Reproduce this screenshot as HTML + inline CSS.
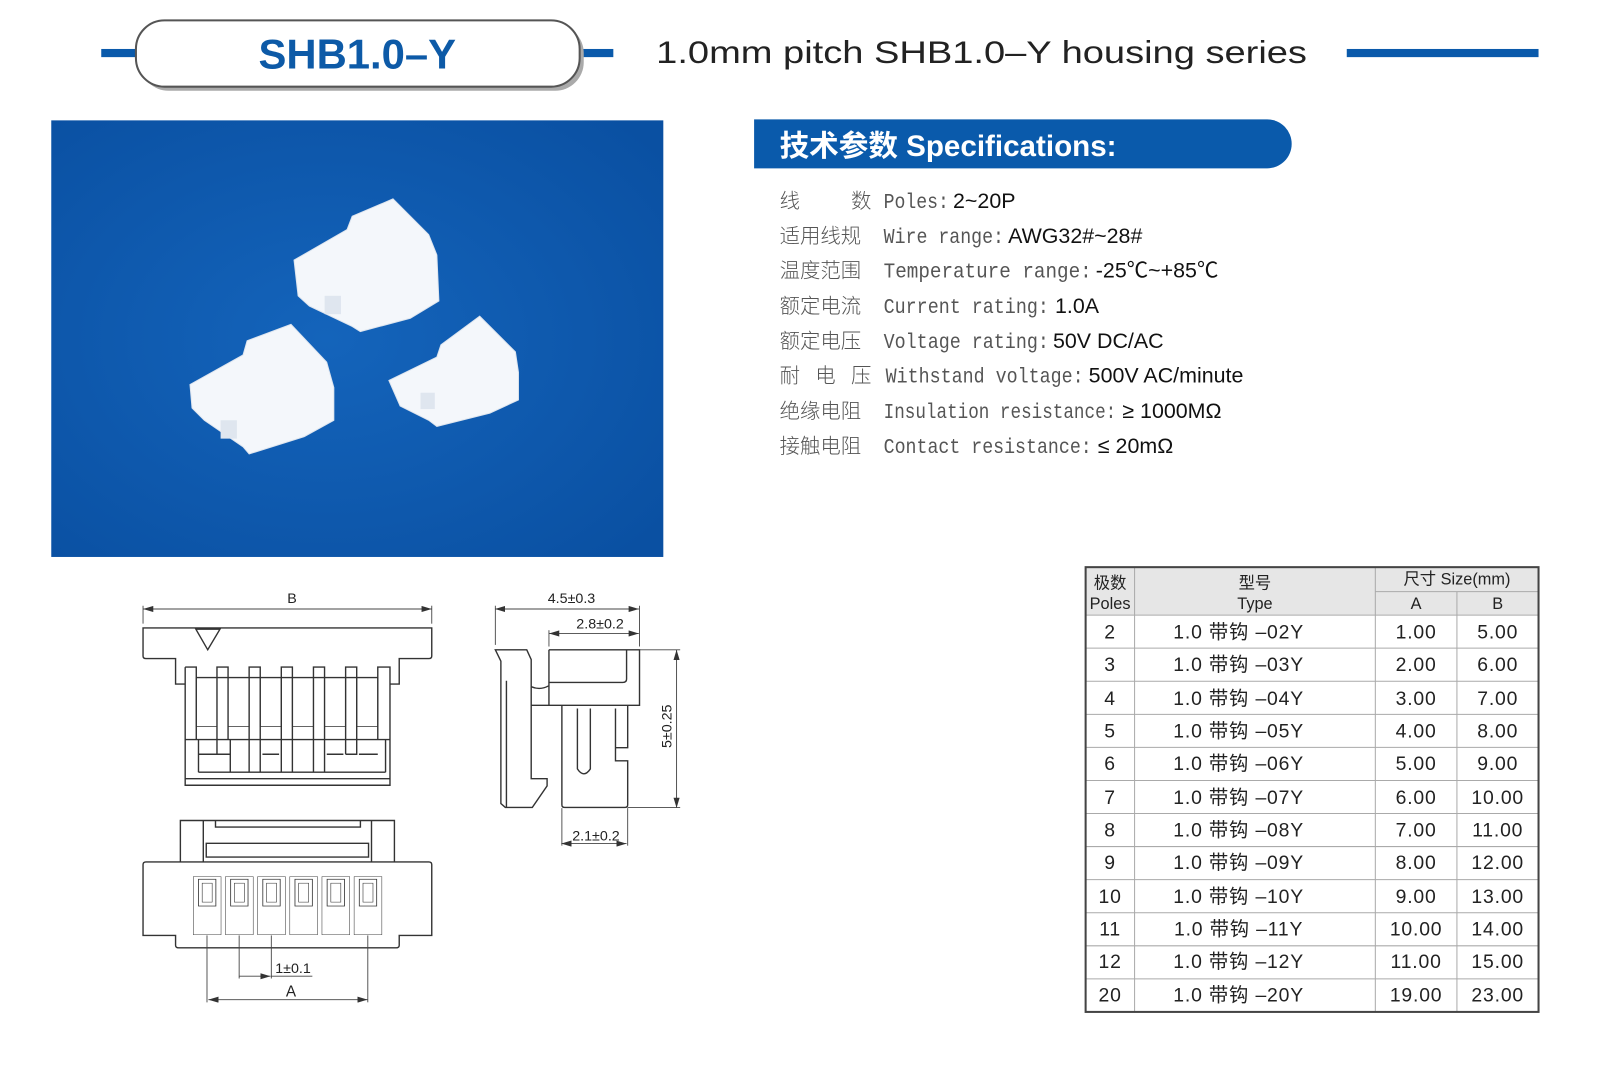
<!DOCTYPE html>
<html><head><meta charset="utf-8"><style>
html,body{margin:0;padding:0;background:#fff;}
svg{display:block;}
text{font-family:"Liberation Sans","Noto Sans CJK SC",sans-serif;}
.m{font-family:"Liberation Mono","DejaVu Sans Mono",monospace;fill:#555;font-size:21px;}
.c{font-family:"Noto Sans CJK SC",sans-serif;fill:#555;font-size:20px;font-weight:300;}
.v{fill:#111;font-size:21px;}
.t{font-size:19px;fill:#222;letter-spacing:0.8px;}
.d{fill:none;stroke:#333;stroke-width:1.4;vector-effect:non-scaling-stroke;}
.dl{fill:none;stroke:#444;stroke-width:0.9;vector-effect:non-scaling-stroke;}
.dim{font-size:14px;fill:#222;}
</style></head><body>
<svg width="1600" height="1067" viewBox="0 0 1568 1046" xmlns="http://www.w3.org/2000/svg">
<defs>
<radialGradient id="bg" cx="0.45" cy="0.5" r="0.7"><stop offset="0" stop-color="#1464bb"/><stop offset="1" stop-color="#0a50a2"/></radialGradient>
<marker id="ar" viewBox="0 0 10 6" refX="10" refY="3" markerWidth="10" markerHeight="6" markerUnits="userSpaceOnUse" orient="auto-start-reverse"><path d="M0,0 L10,3 L0,6 Z" fill="#333"/></marker>
</defs>

<!-- Header -->
<rect x="99" y="48" width="36" height="8" fill="#0a5aab"/>
<rect x="566" y="48" width="35" height="8" fill="#0a5aab"/>
<rect x="1320" y="48" width="188" height="8" fill="#0a5aab"/>
<rect x="137" y="24" width="435" height="65" rx="28" fill="#aaa"/>
<rect x="133" y="20" width="435" height="65" rx="28" fill="#fff" stroke="#555" stroke-width="2"/>
<text x="350" y="67" text-anchor="middle" font-size="41" font-weight="bold" fill="#0d5aa7">SHB1.0–Y</text>
<text x="643" y="62" font-size="31" fill="#222" textLength="638" lengthAdjust="spacingAndGlyphs">1.0mm pitch SHB1.0–Y housing series</text>

<!-- Photo -->
<rect x="50" y="118" width="600" height="428" fill="url(#bg)"/>
<g fill="#f4f7fb" stroke="#dfe6ef" stroke-width="1">
 <polygon points="288,255 340,225 345,212 385,195 420,230 428,250 430,295 402,312 353,325 345,320 303,300 292,290"/>
 <polygon points="186,377 238,348 242,334 285,318 320,355 327,380 327,412 298,428 244,445 238,438 200,412 188,400"/>
 <polygon points="381,373 428,350 432,338 470,310 505,345 508,365 508,392 480,405 428,418 420,412 392,398"/>
</g>
<g fill="#dfe6ef">
 <rect x="318" y="290" width="16" height="18"/><rect x="216" y="412" width="16" height="18"/><rect x="412" y="385" width="14" height="16"/>
</g>

<!-- Spec banner -->
<path d="M739,117 H1242 A24,24 0 0 1 1242,165 H739 Z" fill="#0a5aab"/>
<text x="764" y="153" font-size="29" font-weight="bold" fill="#fff">技术参数 Specifications:</text>

<!-- Spec lines -->
<g>
 <text class="c" x="764" y="204">线</text><text class="c" x="834" y="204">数</text>
 <text class="m" x="866" y="204" textLength="64" lengthAdjust="spacingAndGlyphs">Poles:</text><text class="v" x="934" y="204">2~20P</text>
 <text class="c" x="764" y="238">适用线规</text>
 <text class="m" x="866" y="238" textLength="118" lengthAdjust="spacingAndGlyphs">Wire range:</text><text class="v" x="988" y="238">AWG32#~28#</text>
 <text class="c" x="764" y="272">温度范围</text>
 <text class="m" x="866" y="272" textLength="204" lengthAdjust="spacingAndGlyphs">Temperature range:</text><text class="v" x="1074" y="272">-25℃~+85℃</text>
 <text class="c" x="764" y="307">额定电流</text>
 <text class="m" x="866" y="307" textLength="162" lengthAdjust="spacingAndGlyphs">Current rating:</text><text class="v" x="1034" y="307">1.0A</text>
 <text class="c" x="764" y="341">额定电压</text>
 <text class="m" x="866" y="341" textLength="162" lengthAdjust="spacingAndGlyphs">Voltage rating:</text><text class="v" x="1032" y="341">50V DC/AC</text>
 <text class="c" x="764" y="375">耐</text><text class="c" x="799" y="375">电</text><text class="c" x="834" y="375">压</text>
 <text class="m" x="868" y="375" textLength="194" lengthAdjust="spacingAndGlyphs">Withstand voltage:</text><text class="v" x="1067" y="375">500V AC/minute</text>
 <text class="c" x="764" y="410">绝缘电阻</text>
 <text class="m" x="866" y="410" textLength="228" lengthAdjust="spacingAndGlyphs">Insulation resistance:</text><text class="v" x="1100" y="410">≥ 1000MΩ</text>
 <text class="c" x="764" y="444">接触电阻</text>
 <text class="m" x="866" y="444" textLength="204" lengthAdjust="spacingAndGlyphs">Contact resistance:</text><text class="v" x="1076" y="444">≤ 20mΩ</text>
</g>

<!-- Table -->
<rect x="1064" y="556" width="444" height="47" fill="#e6e6e6"/>
<g stroke="#aaa" stroke-width="1">
 <line x1="1348" y1="580" x2="1508" y2="580"/>
 <line x1="1064" y1="603" x2="1508" y2="603"/>
 <line x1="1064" y1="635.4" x2="1508" y2="635.4"/><line x1="1064" y1="667.8" x2="1508" y2="667.8"/>
 <line x1="1064" y1="700.3" x2="1508" y2="700.3"/><line x1="1064" y1="732.7" x2="1508" y2="732.7"/>
 <line x1="1064" y1="765.1" x2="1508" y2="765.1"/><line x1="1064" y1="797.5" x2="1508" y2="797.5"/>
 <line x1="1064" y1="829.9" x2="1508" y2="829.9"/><line x1="1064" y1="862.3" x2="1508" y2="862.3"/>
 <line x1="1064" y1="894.8" x2="1508" y2="894.8"/><line x1="1064" y1="927.2" x2="1508" y2="927.2"/>
 <line x1="1064" y1="959.6" x2="1508" y2="959.6"/>
 <line x1="1112" y1="556" x2="1112" y2="992"/>
 <line x1="1348" y1="556" x2="1348" y2="992"/>
 <line x1="1428" y1="580" x2="1428" y2="992"/>
</g>
<rect x="1064" y="556" width="444" height="436" fill="none" stroke="#444" stroke-width="2"/>
<g font-size="16" fill="#222" text-anchor="middle">
 <text x="1088" y="577">极数</text><text x="1088" y="597">Poles</text>
 <text x="1230" y="577">型号</text><text x="1230" y="597">Type</text>
 <text x="1428" y="573">尺寸 Size(mm)</text>
 <text x="1388" y="597">A</text><text x="1468" y="597">B</text>
</g>
<g class="t" text-anchor="middle">
 <text x="1088" y="626">2</text><text x="1214" y="626">1.0 带钩 –02Y</text><text x="1388" y="626">1.00</text><text x="1468" y="626">5.00</text>
 <text x="1088" y="658">3</text><text x="1214" y="658">1.0 带钩 –03Y</text><text x="1388" y="658">2.00</text><text x="1468" y="658">6.00</text>
 <text x="1088" y="691">4</text><text x="1214" y="691">1.0 带钩 –04Y</text><text x="1388" y="691">3.00</text><text x="1468" y="691">7.00</text>
 <text x="1088" y="723">5</text><text x="1214" y="723">1.0 带钩 –05Y</text><text x="1388" y="723">4.00</text><text x="1468" y="723">8.00</text>
 <text x="1088" y="755">6</text><text x="1214" y="755">1.0 带钩 –06Y</text><text x="1388" y="755">5.00</text><text x="1468" y="755">9.00</text>
 <text x="1088" y="788">7</text><text x="1214" y="788">1.0 带钩 –07Y</text><text x="1388" y="788">6.00</text><text x="1468" y="788">10.00</text>
 <text x="1088" y="820">8</text><text x="1214" y="820">1.0 带钩 –08Y</text><text x="1388" y="820">7.00</text><text x="1468" y="820">11.00</text>
 <text x="1088" y="852">9</text><text x="1214" y="852">1.0 带钩 –09Y</text><text x="1388" y="852">8.00</text><text x="1468" y="852">12.00</text>
 <text x="1088" y="885">10</text><text x="1214" y="885">1.0 带钩 –10Y</text><text x="1388" y="885">9.00</text><text x="1468" y="885">13.00</text>
 <text x="1088" y="917">11</text><text x="1214" y="917">1.0 带钩 –11Y</text><text x="1388" y="917">10.00</text><text x="1468" y="917">14.00</text>
 <text x="1088" y="949">12</text><text x="1214" y="949">1.0 带钩 –12Y</text><text x="1388" y="949">11.00</text><text x="1468" y="949">15.00</text>
 <text x="1088" y="982">20</text><text x="1214" y="982">1.0 带钩 –20Y</text><text x="1388" y="982">19.00</text><text x="1468" y="982">23.00</text>
</g>

<!-- Drawings (zoom coords) -->
<g transform="translate(117.5,571.4) scale(0.3624,0.32)">
 <!-- front view -->
 <line class="dl" x1="62" y1="70" x2="62" y2="125"/><line class="dl" x1="843" y1="70" x2="843" y2="125"/>
 <path class="d" d="M176,310 H150 V232 H70 Q62,232 62,224 V138 H843 V224 Q843,232 835,232 H755 V310 H730"/>
 <path class="d" d="M205,142 L270,142 L237,205 Z"/>
 <path class="d" d="M176,258 H206 V480 M262,480 V258 H292 V480 M349,480 V258 H379 V480 M436,480 V258 H466 V480 M523,480 V258 H553 V480 M610,480 V258 H640 V480 M697,480 V258 H730 V620 H176 V258"/>
 <g class="d" style="stroke-width:2.4">
  <path d="M206,290 V440 H262 V290 M292,290 V440 H349 V290 M379,290 V440 H436 V290 M466,290 V440 H523 V290 M553,290 V440 H610 V290 M640,290 V440 H697 V290"/>
 </g>
 <path class="d" d="M206,290 H697 M176,480 H730 M176,600 H730 M212,580 H718 M212,480 V580 M349,480 V580 M379,480 V580 M523,480 V580 M553,480 V580 M718,480 V580 M298,480 V580 M262,480 V525 H298 M436,480 V580 M466,480 V580 M610,480 V525 M640,480 V525 H610 M212,525 H262 M646,525 H697 M385,525 H430 M559,525 H604"/>
 <!-- side view -->
 <line class="dl" x1="1015" y1="70" x2="1015" y2="190"/><line class="dl" x1="1405" y1="70" x2="1405" y2="195"/>
 <line class="dl" x1="1160" y1="145" x2="1160" y2="195"/>
 <path class="d" d="M1015,205 H1100 L1112,235 V600 L1155,600 V622 L1115,688 H1042 L1030,676 V240 Z M1045,300 V686"/>
 <path class="d" d="M1160,205 H1405 V375 H1112 M1160,205 V375 M1160,305 H1360 Q1370,305 1370,295 V205 M1112,318 Q1136,330 1160,315"/>
 <path class="d" d="M1195,375 V680 Q1195,688 1203,688 H1365 Q1373,688 1373,680 V545 H1340 V505 H1373 V375 M1340,385 V505 M1237,385 V570 Q1254,600 1272,570 V385"/>
 <line class="dl" x1="1405" y1="205" x2="1515" y2="205"/><line class="dl" x1="1373" y1="688" x2="1515" y2="688"/>
 <line class="dl" x1="1195" y1="690" x2="1195" y2="805"/><line class="dl" x1="1373" y1="690" x2="1373" y2="805"/>
 <!-- bottom view -->
 <path class="d" d="M163,855 V728 H742 V855 M225,728 V855 M680,728 V855 M258,728 V748 H650 V728 M233,798 H672 V840 H233 Z"/>
 <path class="d" d="M70,855 H835 Q843,855 843,863 V1080 H755 V1110 Q755,1118 747,1118 H158 Q150,1118 150,1110 V1080 H62 V863 Q62,855 70,855 Z"/>
 <g class="d">
  <rect x="198" y="900" width="75" height="178"/><rect x="285" y="900" width="75" height="178"/><rect x="372" y="900" width="75" height="178"/>
  <rect x="459" y="900" width="75" height="178"/><rect x="546" y="900" width="75" height="178"/><rect x="633" y="900" width="75" height="178"/>
 </g>
 <g class="d" style="stroke-width:2.2">
  <rect x="212" y="908" width="47" height="82"/><rect x="299" y="908" width="47" height="82"/><rect x="386" y="908" width="47" height="82"/>
  <rect x="473" y="908" width="47" height="82"/><rect x="560" y="908" width="47" height="82"/><rect x="647" y="908" width="47" height="82"/>
 </g>
 <g class="d" style="stroke-width:1.6">
  <rect x="222" y="920" width="27" height="58"/><rect x="309" y="920" width="27" height="58"/><rect x="396" y="920" width="27" height="58"/>
  <rect x="483" y="920" width="27" height="58"/><rect x="570" y="920" width="27" height="58"/><rect x="657" y="920" width="27" height="58"/>
 </g>
 <line class="dl" x1="235" y1="1080" x2="235" y2="1285"/><line class="dl" x1="670" y1="1080" x2="670" y2="1285"/>
 <line class="dl" x1="322" y1="1080" x2="322" y2="1212"/><line class="dl" x1="409" y1="1080" x2="409" y2="1212"/>
 <line class="dl" x1="409" y1="1205" x2="520" y2="1205"/>
</g>
<!-- dimension lines in main coords -->
<g stroke="#444" stroke-width="0.9" fill="none">
 <line x1="140" y1="597" x2="423" y2="597" marker-start="url(#ar)" marker-end="url(#ar)"/>
 <line x1="485" y1="597" x2="626" y2="597" marker-start="url(#ar)" marker-end="url(#ar)"/>
 <line x1="538" y1="621" x2="626" y2="621" marker-start="url(#ar)" marker-end="url(#ar)"/>
 <line x1="663" y1="637" x2="663" y2="792" marker-start="url(#ar)" marker-end="url(#ar)"/>
 <line x1="550" y1="827" x2="614" y2="827" marker-start="url(#ar)" marker-end="url(#ar)"/>
 <line x1="204" y1="980" x2="360" y2="980" marker-start="url(#ar)" marker-end="url(#ar)"/>
 <line x1="234" y1="957" x2="265" y2="957" marker-end="url(#ar)"/>
</g>
<g class="dim" text-anchor="middle">
 <text x="286" y="591">B</text>
 <text x="560" y="591">4.5±0.3</text>
 <text x="588" y="616">2.8±0.2</text>
 <text x="584" y="824">2.1±0.2</text>
 <text x="287" y="954">1±0.1</text>
 <text x="285" y="977" font-size="15">A</text>
 <text transform="translate(658,712) rotate(-90)">5±0.25</text>
</g>
</svg>
</body></html>
